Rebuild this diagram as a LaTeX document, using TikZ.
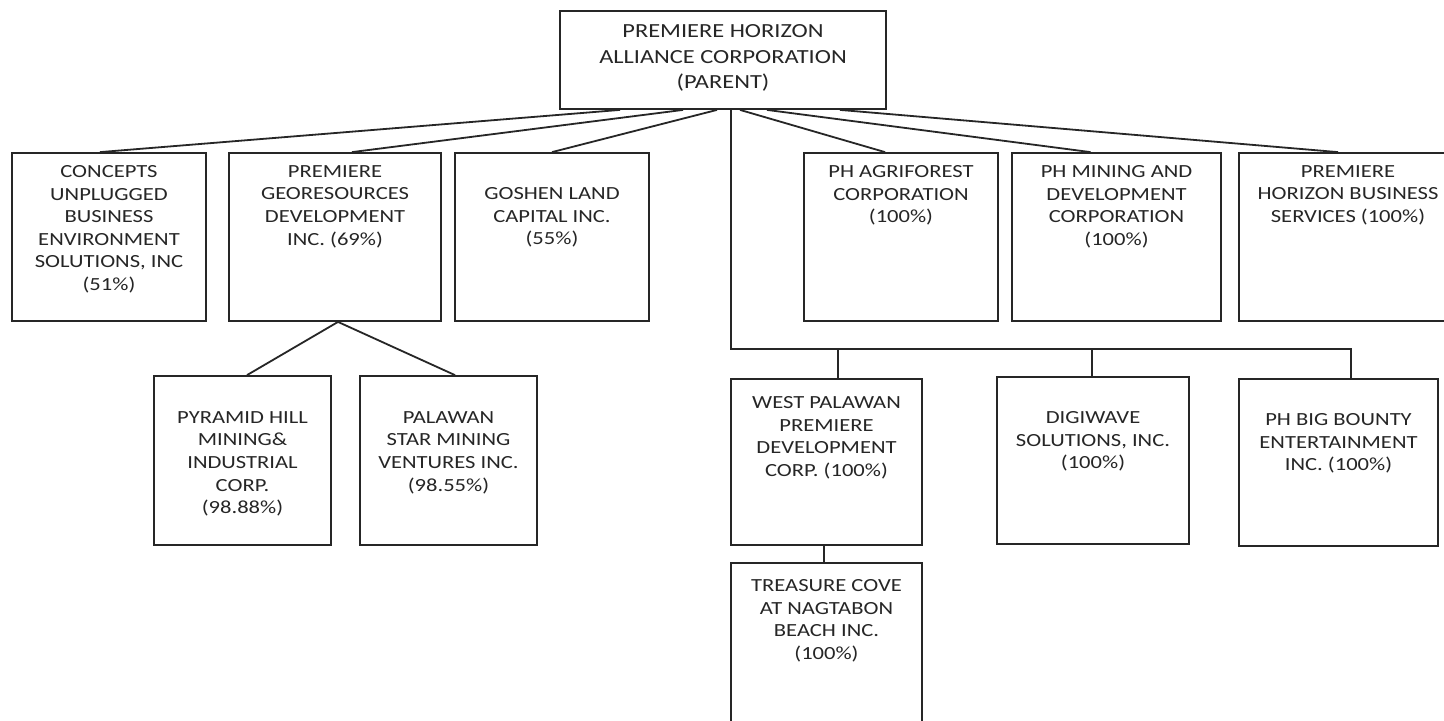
\documentclass[tikz,border=0pt]{standalone}
\usepackage{fontspec}
\setmainfont{Carlito}[FakeStretch=1.22]
\usetikzlibrary{calc}

\begin{document}
\begin{tikzpicture}[x=0.5pt,y=-0.5pt,
  firm/.style={draw=black!85, line width=0.9pt, inner sep=0pt, minimum height=84pt},
  firmtxt/.style={anchor=north, align=center, inner sep=0pt, text=black!85, font=\fontsize{9.25}{11.3}\selectfont},
  link/.style={draw=black!85, line width=0.9pt}]
\path[use as bounding box, clip] (0,0) rectangle (1444,720);
\fill[white] (0,0) rectangle (1444,720);

% parent
\node[firm, minimum width=163pt, minimum height=49pt] (parent) at (723,60) {};
\node[firmtxt, font=\fontsize{10}{12.85}\selectfont] (parent-t) at ($(parent.north)+(0,14)$) {PREMIERE HORIZON\\ALLIANCE CORPORATION\\(PARENT)};

% first row
\node[firm, minimum width=97pt] (concepts) at (109,237) {};
\node[firm, minimum width=106pt] (georesources) at (335,237) {};
\node[firm, minimum width=97pt] (goshen) at (552,237) {};
\node[firm, minimum width=97pt] (agriforest) at (901,237) {};
\node[firm, minimum width=104.5pt] (mining) at (1116.5,237) {};
\node[firm, minimum width=109pt] (business) at (1348,237) {};

\node[firmtxt] (concepts-t) at ($(concepts.north)+(0,13)$) {CONCEPTS\\UNPLUGGED\\BUSINESS\\ENVIRONMENT\\SOLUTIONS, INC\\(51\%)};
\node[firmtxt] (georesources-t) at ($(georesources.north)+(0,13)$) {PREMIERE\\GEORESOURCES\\DEVELOPMENT\\INC. (69\%)};
\node[firmtxt] (goshen-t) at ($(goshen.north)+(0,35)$) {GOSHEN LAND\\CAPITAL INC.\\(55\%)};
\node[firmtxt] (agriforest-t) at ($(agriforest.north)+(0,13)$) {PH AGRIFOREST\\CORPORATION\\(100\%)};
\node[firmtxt] (mining-t) at ($(mining.north)+(0,13)$) {PH MINING AND\\DEVELOPMENT\\CORPORATION\\(100\%)};
\node[firmtxt] (business-t) at ($(business.north)+(0,13)$) {PREMIERE\\HORIZON BUSINESS\\SERVICES (100\%)};

% second row
\node[firm, minimum width=88.5pt, minimum height=84.5pt] (pyramid) at (242.5,460.5) {};
\node[firm, minimum width=88.5pt, minimum height=84.5pt] (palawanstar) at (448.5,460.5) {};
\node[firm, minimum width=95.5pt, minimum height=83pt] (westpalawan) at (826.5,462) {};
\node[firm, minimum width=96pt, minimum height=83.5pt] (digiwave) at (1093,460.5) {};
\node[firm, minimum width=99.5pt, minimum height=83.5pt] (bigbounty) at (1338.5,462.5) {};
\node[firm, minimum width=95.5pt, minimum height=88.5pt] (treasure) at (826.5,651.5) {};

\node[firmtxt] (pyramid-t) at ($(pyramid.north)+(0,36)$) {PYRAMID HILL\\MINING\&\\INDUSTRIAL\\CORP.\\(98.88\%)};
\node[firmtxt] (palawanstar-t) at ($(palawanstar.north)+(0,36)$) {PALAWAN\\STAR MINING\\VENTURES INC.\\(98.55\%)};
\node[firmtxt] (westpalawan-t) at ($(westpalawan.north)+(0,18)$) {WEST PALAWAN\\PREMIERE\\DEVELOPMENT\\CORP. (100\%)};
\node[firmtxt] (digiwave-t) at ($(digiwave.north)+(0,35)$) {DIGIWAVE\\SOLUTIONS, INC.\\(100\%)};
\node[firmtxt] (bigbounty-t) at ($(bigbounty.north)+(0,35)$) {PH BIG BOUNTY\\ENTERTAINMENT\\INC. (100\%)};
\node[firmtxt] (treasure-t) at ($(treasure.north)+(0,17)$) {TREASURE COVE\\AT NAGTABON\\BEACH INC.\\(100\%)};

% fan from the parent
\draw[link] ([xshift=-51.5pt]parent.south) -- ([xshift=-4.5pt]concepts.north);
\draw[link] ([xshift=-20pt]parent.south) -- ([xshift=8.5pt]georesources.north);
\draw[link] ([xshift=-3pt]parent.south) -- (goshen.north);
\draw[link] ([xshift=8.5pt]parent.south) -- ([xshift=-8pt]agriforest.north);
\draw[link] ([xshift=22pt]parent.south) -- ([xshift=-13pt]mining.north);
\draw[link] ([xshift=58.5pt]parent.south) -- ([xshift=-5pt]business.north);

\draw[link] ([xshift=1.5pt]georesources.south) -- ([xshift=2.25pt]pyramid.north);
\draw[link] ([xshift=1.5pt]georesources.south) -- ([xshift=3.25pt]palawanstar.north);

% trunk to the lower row
\coordinate (bus) at (731,349);
\coordinate (busend) at (1351,349);
\draw[link] ([xshift=4pt]parent.south) -- (bus) -- (busend) -- ([xshift=6.25pt]bigbounty.north);
\draw[link] ([xshift=5.75pt]westpalawan.north) |- (bus);
\draw[link] ([xshift=-0.5pt]digiwave.north) |- (busend);
\draw[link] ([xshift=-1.25pt]westpalawan.south) -- ([xshift=-1.25pt]treasure.north);

\end{tikzpicture}
\end{document}
